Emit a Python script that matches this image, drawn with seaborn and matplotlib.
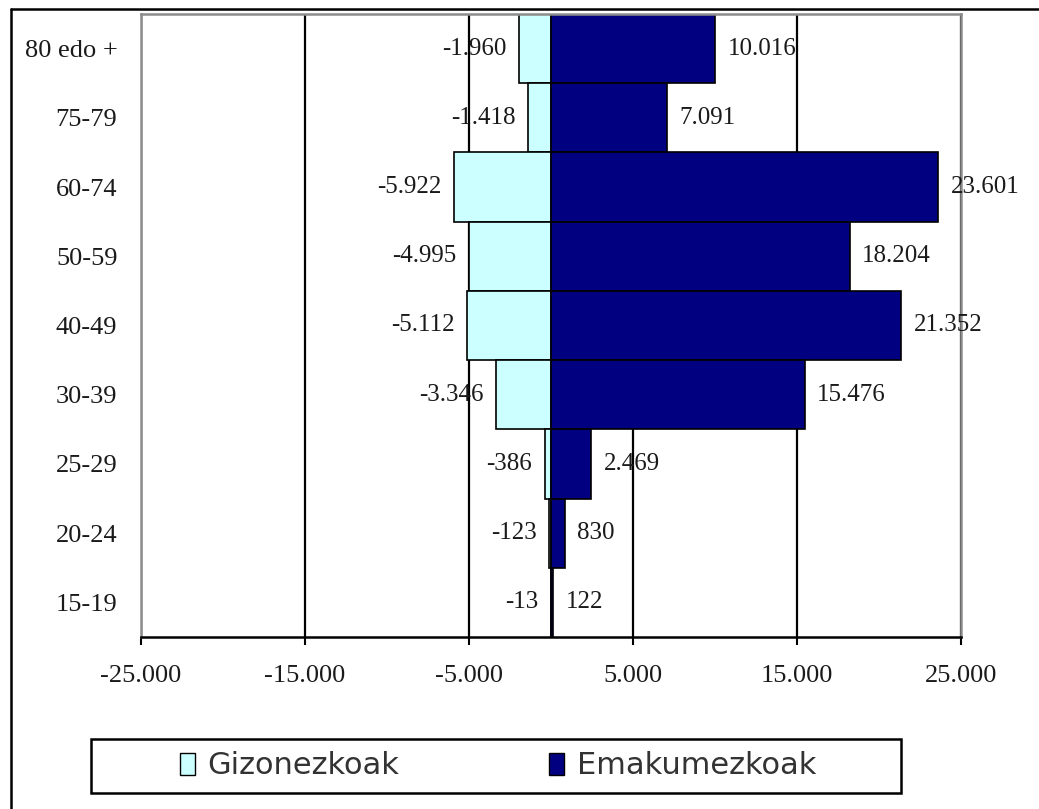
import matplotlib
matplotlib.use("Agg")
import matplotlib.pyplot as plt
from matplotlib.patches import Patch, Rectangle
from matplotlib.lines import Line2D
from matplotlib.ticker import FuncFormatter
import seaborn as sns
import pandas as pd

age_groups = ["80 edo +", "75-79", "60-74", "50-59", "40-49", "30-39", "25-29", "20-24", "15-19"]
men = [-1960, -1418, -5922, -4995, -5112, -3346, -386, -123, -13]
women = [10016, 7091, 23601, 18204, 21352, 15476, 2469, 830, 122]
series = ["Gizonezkoak", "Emakumezkoak"]
x_ticks = [-25000, -15000, -5000, 5000, 15000, 25000]

colors = {"Gizonezkoak": "#CCFFFF", "Emakumezkoak": "#000080"}

df = pd.DataFrame({
    "age": age_groups * 2,
    "sex": [series[0]] * len(age_groups) + [series[1]] * len(age_groups),
    "value": men + women,
})


def fmt(v):
    return f"{v:,.0f}".replace(",", ".")


sns.set_style("white")
plt.rcParams["axes.unicode_minus"] = False
serif = ["Liberation Serif", "DejaVu Serif"]

fig = plt.figure(figsize=(10.39, 8.09), dpi=100)
ax = fig.add_axes([141 / 1039, 1 - 637 / 809, 820 / 1039, 623 / 809])

sns.barplot(data=df, y="age", x="value", hue="sex", order=age_groups,
            hue_order=series, palette=colors, saturation=1, dodge=False,
            width=1.0, orient="h", errorbar=None, edgecolor="black",
            linewidth=1.2, legend=False, ax=ax)

ax.set_xlim(-25000, 25000)
ax.set_ylim(len(age_groups) - 0.5, -0.5)
ax.set_xticks(x_ticks)
ax.xaxis.set_major_formatter(FuncFormatter(lambda v, p: fmt(v)))
ax.set_xlabel("")
ax.set_ylabel("")

ax.set_axisbelow(True)
ax.grid(axis="x", color="black", linewidth=1.6)
ax.grid(axis="y", visible=False)

for side in ["left", "top", "right"]:
    ax.spines[side].set_color("#8c8c8c")
    ax.spines[side].set_linewidth(1.8)
    ax.spines[side].set_zorder(5)
ax.spines["bottom"].set_color("black")
ax.spines["bottom"].set_linewidth(1.8)
ax.spines["bottom"].set_zorder(5)

ax.tick_params(axis="x", direction="out", length=6, width=1.5, color="black",
               pad=14, labelsize=19, labelcolor="#1a1a1a", bottom=True)
ax.tick_params(axis="y", length=0, pad=17, labelsize=19, labelcolor="#1a1a1a")
for lab in ax.get_xticklabels() + ax.get_yticklabels():
    lab.set_family(serif)

# data labels
for i, age in enumerate(age_groups):
    ax.annotate(fmt(men[i]), xy=(men[i], i), xytext=(-9, 0),
                textcoords="offset points", ha="right", va="center",
                fontsize=18, family=serif, color="#1a1a1a", zorder=6)
    ax.annotate(fmt(women[i]), xy=(women[i], i), xytext=(9, 0),
                textcoords="offset points", ha="left", va="center",
                fontsize=18, family=serif, color="#1a1a1a", zorder=6)

# legend in a framed box under the chart
fig.patches.append(Rectangle((91 / 1039, 1 - 793 / 809), 810 / 1039, 54 / 809,
                             transform=fig.transFigure, facecolor="white",
                             edgecolor="black", linewidth=1.8))
handles = [Patch(facecolor=colors[s], edgecolor="black", linewidth=1.0, label=s)
           for s in series]
fig.legend(handles=handles, loc="center", bbox_to_anchor=(498 / 1039, 1 - 766 / 809),
           ncol=2, frameon=False, handlelength=0.5, handleheight=0.75,
           handletextpad=0.4, columnspacing=4.9, labelcolor="#333333",
           prop={"family": "DejaVu Sans", "size": 22})

# outer chart border (cut off at right and bottom)
fig.lines.append(Line2D([11 / 1039, 11 / 1039], [0, 1 - 9 / 809],
                        transform=fig.transFigure, color="black", linewidth=1.8))
fig.lines.append(Line2D([11 / 1039, 1], [1 - 9 / 809, 1 - 9 / 809],
                        transform=fig.transFigure, color="black", linewidth=1.8))

fig.savefig("out.png", dpi=100, facecolor="white")
